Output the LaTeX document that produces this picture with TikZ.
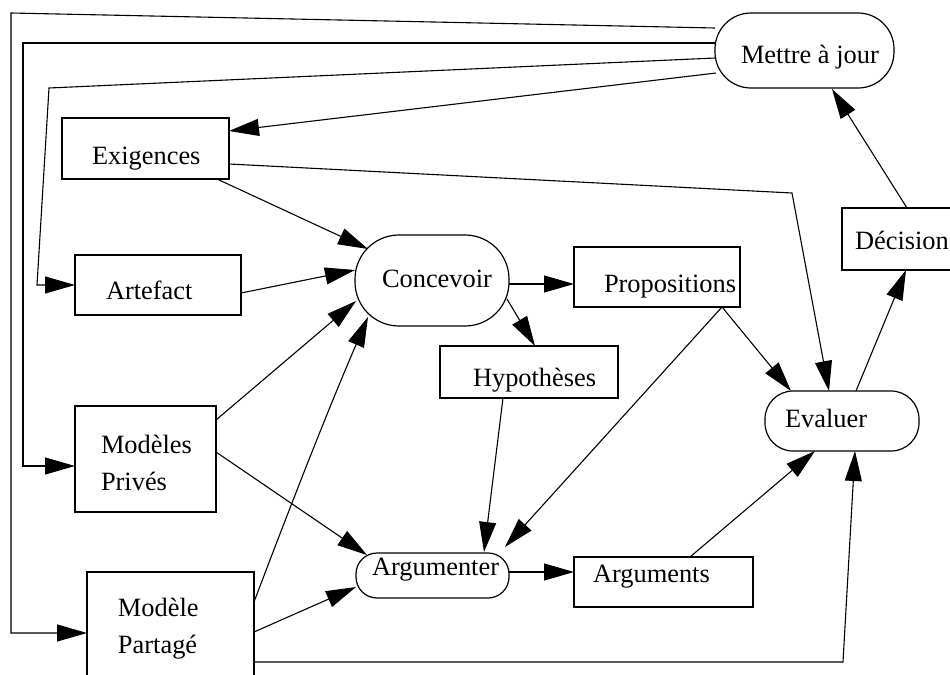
\documentclass[tikz,border=0pt]{standalone}
\usepackage{fontspec}
\setmainfont{Liberation Serif}
\usetikzlibrary{arrows.meta,calc,fit}
\begin{document}
\begin{tikzpicture}[x=0.5pt,y=-0.5pt,
  line width=0.55pt,
  box/.style={draw, rectangle, inner sep=0pt, outer sep=0pt, line width=0.6pt},
  pill/.style={box, rounded corners=#1},
  lbl/.style={anchor=base west, inner sep=0pt, outer sep=0pt,
    font=\fontsize{13.2}{18.3}\selectfont, align=left},
  flow/.style={-{Triangle[length=15pt,width=8.5pt]}},
]
\clip (0,0) rectangle (950,675);

% activities (rounded) and artefacts (rectangles)
\node[pill=18pt, fit={(715,13) (894,88)}]     (mj) {};
\node[box,  fit={(62,118) (229,179)}]         (ex) {};
\node[box,  fit={(75,255) (241,315)}]         (at) {};
\node[pill=22pt, fit={(355,235) (509,326)}]   (cv) {};
\node[box,  fit={(574,247) (740,307)}]        (pr) {};
\node[box,  fit={(842,208) (960,270)}]        (de) {};
\node[box,  fit={(440,346) (618,398)}]        (hy) {};
\node[pill=14pt, fit={(765,391) (919,451)}]   (ev) {};
\node[box,  fit={(574,557) (753,607)}]        (ag) {};
\node[pill=10.5pt, fit={(356,553) (509,598)}] (am) {};
\node[box,  fit={(75,406) (216,512)}]         (mp) {};
\node[box,  fit={(87,572) (254,700)}]         (ms) {};

% labels
\node[lbl] (mj-t) at (741,63)  {Mettre à jour};
\node[lbl] (ex-t) at (92,164)  {Exigences};
\node[lbl] (at-t) at (106,299) {Artefact};
\node[lbl] (cv-t) at (382,287) {Concevoir};
\node[lbl] (pr-t) at (604,292) {Propositions};
\node[lbl] (de-t) at (855,249) {Décision};
\node[lbl] (hy-t) at (473,386) {Hypothèses};
\node[lbl] (ev-t) at (785,427) {Evaluer};
\node[lbl] (ag-t) at (593,582) {Arguments};
\node[lbl] (am-t) at (372,575) {Argumenter};
\node[lbl] (mp-t) at (101,490) {Modèles\\Privés};
\node[lbl] (ms-t) at (118,653) {Modèle\\Partagé};

% feedback from "Mettre à jour"
\draw[flow] ($(mj.north west)+(0,15)$) -- (11,13) |- ($(ms.north west)+(0,61)$);
\draw[flow] ($(mj.north west)+(0,30)$) -- (23,43) |- ($(mp.north west)+(0,60)$);
\draw[flow] ($(mj.north west)+(0,45)$) -- (49,88) -- (37,285) -- (at.west);
\draw[flow] ($(mj.north west)+(1,60)$) -- ($(ex.north west)+(167,13)$);

% inputs to design
\draw[flow] ($(ex.north west)+(167,46)$) -- (792,193) -- ($(ev.north west)+(64,0)$);
\draw[flow] ($(ex.north west)+(155,61)$) -- ($(cv.north west)+(13,14)$);
\draw[flow] ($(at.north west)+(166,38)$) -- ($(cv.north west)+(0,35)$);
\draw[flow] ($(mp.north west)+(141,14)$) -- ($(cv.north west)+(1,66)$);
\draw[flow] ($(ms.north west)+(167,30)$) .. controls (290,507) and (327,412) .. ($(cv.north west)+(13,82)$);
\draw[flow] ($(mp.north west)+(141,46)$) -- ($(am.north west)+(11,2)$);
\draw[flow] ($(ms.north west)+(167,60)$) -- ($(am.north west)+(0,34)$);
\draw[flow] ($(ms.north west)+(167,90)$) -- (843,662) -- ($(ev.north west)+(90,60)$);

% design, argumentation and evaluation
\draw[flow] ($(cv.north west)+(154,49)$) -- ($(pr.north west)+(0,37)$);
\draw[flow] ($(cv.north west)+(152,64)$) -- ($(hy.north west)+(95,0)$);
\draw[flow] ($(hy.north west)+(63,52)$) -- ($(am.north west)+(128,-1)$);
\draw[flow] ($(pr.north west)+(148,60)$) -- ($(am.north west)+(149,-6)$);
\draw[flow] ($(pr.north west)+(148,60)$) -- ($(ev.north west)+(26,0)$);
\draw[flow] ($(ag.north west)+(116,0)$) -- ($(ev.north west)+(50,60)$);
\draw[flow] ($(am.north west)+(153,19)$) -- ($(ag.north west)+(0,15)$);
\draw[flow] ($(ev.north west)+(91,0)$) -- ($(de.north west)+(64,62)$);
\draw[flow] ($(de.north west)+(65,0)$) -- ($(mj.north west)+(117,76)$);
\end{tikzpicture}
\end{document}
